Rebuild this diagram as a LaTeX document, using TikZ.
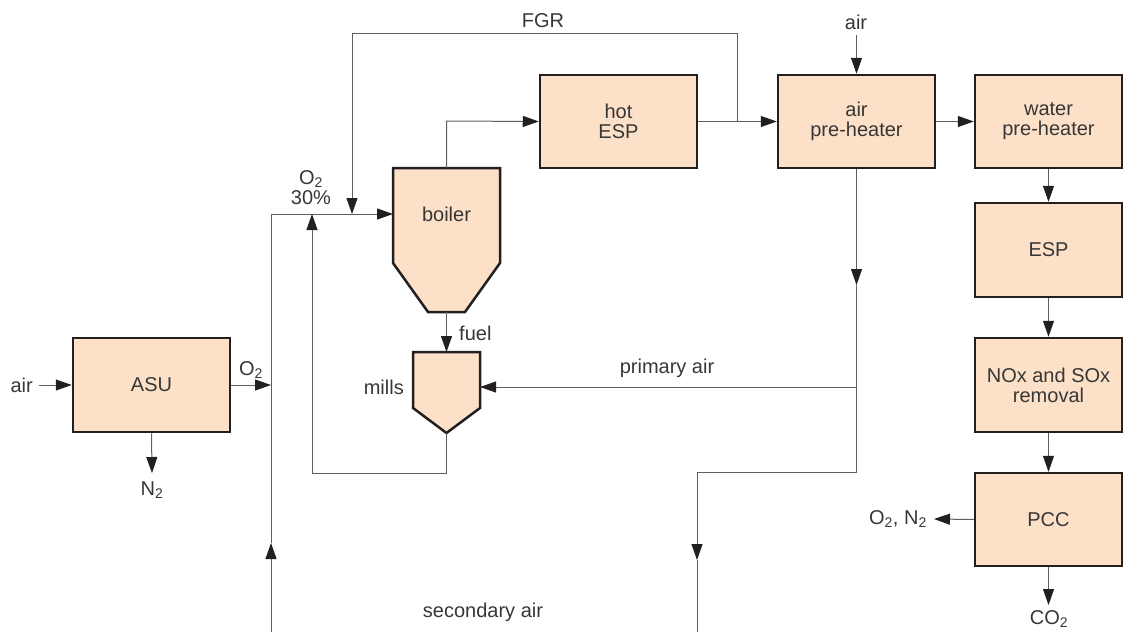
\documentclass[tikz,border=0pt]{standalone}
\usepackage{fontspec}
\setmainfont{Liberation Sans}
\usetikzlibrary{arrows.meta}
\definecolor{peach}{RGB}{253,224,200}
\definecolor{edge}{RGB}{35,31,32}
\definecolor{wire}{RGB}{95,95,95}
\definecolor{ink}{RGB}{55,55,55}
\begin{document}
\begin{tikzpicture}[x=1pt,y=-1pt,
  every node/.style={font=\fontsize{20}{20}\selectfont, text=ink},
  unit/.style={draw=edge, line width=2.5pt, fill=peach, minimum width=157pt, minimum height=94pt, align=center, inner sep=0pt},
  narrowunit/.style={unit, minimum width=147pt},
  vessel/.style={draw=edge, line width=2.5pt, fill=peach, line join=miter},
  flow/.style={draw=wire, line width=1pt},
  arr/.style={flow, -{Triangle[length=16pt,width=11pt,color=edge,fill=edge]}},
  lbl/.style={inner sep=0pt, align=center}]
\useasboundingbox (0,0) rectangle (1124,632);
\clip (0,0) rectangle (1124,632);

% boxes
\node[unit] (asu) at (151.5,385) {ASU};
\node[unit, minimum height=93pt] (hesp) at (618.5,121.5) {hot\\ESP};
\node[unit, minimum height=93pt] (aph) at (856.5,121.5) {air\\pre-heater};
\node[narrowunit, minimum height=93pt] (wph) at (1048.5,121.5) {water\\pre-heater};
\node[narrowunit] (esp) at (1048.5,250) {ESP};
\node[narrowunit] (nox) at (1048.5,385) {NOx and SOx\\removal};
\node[narrowunit, minimum height=93pt] (pcc) at (1048.5,519.5) {PCC};

% boiler and mills
\draw[vessel] (393,168) -- (500,168) -- (500,263) -- (465,312) -- (428,312) -- (393,263) -- cycle;
\node[lbl] (boiler) at (446.5,214) {boiler};
\coordinate (btop) at (446.5,168);
\coordinate (bbot) at (446.5,312);
\coordinate (bleft) at (393,214);
\draw[vessel] (413,352) -- (480,352) -- (480,408) -- (446.5,433) -- (413,408) -- cycle;
\coordinate (mtop) at (446.5,352);
\coordinate (mbot) at (446.5,433);
\coordinate (mright) at (480,387);
\node[lbl, anchor=east] (millsl) at (404,387) {mills};

% labels
\node[lbl, anchor=east] (airin) at (33,385) {air};
\node[lbl] (o2a) at (251,370) {O\textsubscript{2}};
\node[lbl] (n2) at (152,490) {N\textsubscript{2}};
\node[lbl] (o2b) at (311,188) {O\textsubscript{2}\\30\%};
\node[lbl] (fgr) at (543,21) {FGR};
\node[lbl, anchor=west] (fuel) at (459,333) {fuel};
\node[lbl] (pair) at (667,368) {primary air};
\node[lbl] (sair) at (483,612) {secondary air};
\node[lbl] (airtop) at (856,22) {air};
\node[lbl, anchor=east] (o2n2) at (927,519) {O\textsubscript{2}, N\textsubscript{2}};
\node[lbl] (co2) at (1049,619) {CO\textsubscript{2}};

% free points
\coordinate (airs) at (39,385);
\coordinate (o2j) at (271,385);
\coordinate (n2t) at (152,473);
\coordinate (lb) at (271,632);
\coordinate (lup) at (271,543);
\coordinate (lt) at (271,214);
\coordinate (fgrj) at (737,121);
\coordinate (fgr1) at (737,33);
\coordinate (fgr2) at (352,33);
\coordinate (fgr3) at (352,214);
\coordinate (bt1) at (446.5,121);
\coordinate (ml1) at (446.5,473);
\coordinate (ml2) at (312,473);
\coordinate (ml3) at (312,214);
\coordinate (airs2) at (856.5,35);
\coordinate (ad1) at (856.5,285);
\coordinate (ad2) at (856.5,387);
\coordinate (ad3) at (856.5,472);
\coordinate (sd1) at (697,472);
\coordinate (sd2) at (697,560);
\coordinate (sd3) at (697,632);
\coordinate (co2t) at (1048.5,605);
\coordinate (o2n2t) at (934,519);

% connectors
\draw[arr] (airs) -- (asu.west);
\draw[arr] (asu.east) -- (o2j);
\draw[arr] (asu.south) -- (n2t);
\draw[arr] (lb) -- (lup);
\draw[arr] (lup) -- (lt) -- (bleft);
\draw[arr] (hesp.east) -- (aph.west);
\draw[arr] (fgrj) -- (fgr1) -- (fgr2) -- (fgr3);
\draw[arr] (btop) -- (bt1) -- (hesp.west);
\draw[arr] (bbot) -- (mtop);
\draw[arr] (mbot) -- (ml1) -- (ml2) -- (ml3);
\draw[arr] (airs2) -- (aph.north);
\draw[arr] (aph.east) -- (wph.west);
\draw[arr] (wph.south) -- (esp.north);
\draw[arr] (esp.south) -- (nox.north);
\draw[arr] (nox.south) -- (pcc.north);
\draw[arr] (pcc.south) -- (co2t);
\draw[arr] (pcc.west) -- (o2n2t);
\draw[arr] (aph.south) -- (ad1);
\draw[arr] (ad2) -- (mright);
\draw[arr] (ad1) -- (ad3) -- (sd1) -- (sd2);
\draw[flow] (sd2) -- (sd3);
\end{tikzpicture}
\end{document}
